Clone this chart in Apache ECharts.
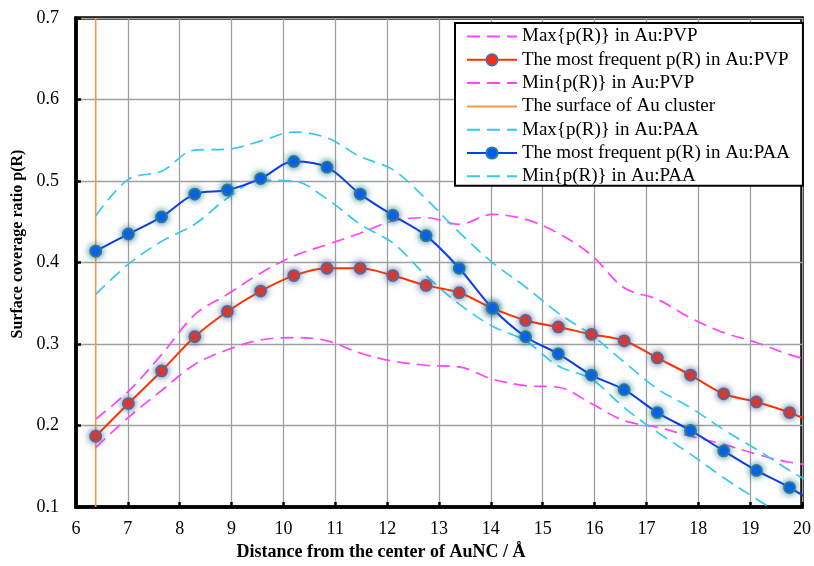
<!DOCTYPE html>
<html>
<head>
<meta charset="utf-8">
<script src="https://cdn.jsdelivr.net/npm/echarts@6/dist/echarts.min.js"></script>
<style>html,body{margin:0;padding:0;background:#fff}#c{width:814px;height:566px}</style>
</head>
<body>
<div id="c"></div>
<script>
// Distance from the centre of AuNC (Å); last point lies just beyond the axis end
const xValues = [6.38, 7.01, 7.65, 8.29, 8.92, 9.56, 10.2, 10.84, 11.48, 12.11, 12.75, 13.39, 14.03, 14.67, 15.3, 15.94, 16.57, 17.21, 17.85, 18.49, 19.12, 19.76, 20.4];

const maxPVP  = [0.208, 0.242, 0.287, 0.336, 0.361, 0.387, 0.408, 0.422, 0.436, 0.451, 0.455, 0.447, 0.459, 0.453, 0.436, 0.409, 0.369, 0.355, 0.332, 0.314, 0.302, 0.287, 0.276];
const modePVP = [0.187, 0.227, 0.267, 0.309, 0.340, 0.365, 0.384, 0.393, 0.393, 0.384, 0.372, 0.363, 0.344, 0.329, 0.321, 0.312, 0.304, 0.283, 0.262, 0.239, 0.229, 0.216, 0.198];
const minPVP  = [0.173, 0.210, 0.243, 0.275, 0.293, 0.305, 0.308, 0.304, 0.289, 0.279, 0.274, 0.272, 0.257, 0.249, 0.247, 0.227, 0.206, 0.198, 0.187, 0.177, 0.165, 0.155, 0.150];

const maxPAA  = [0.457, 0.502, 0.512, 0.538, 0.539, 0.549, 0.560, 0.553, 0.530, 0.514, 0.478, 0.437, 0.400, 0.370, 0.338, 0.311, 0.278, 0.245, 0.222, 0.195, 0.171, 0.145, 0.122];
const modePAA = [0.414, 0.435, 0.456, 0.484, 0.489, 0.503, 0.524, 0.517, 0.484, 0.458, 0.433, 0.393, 0.344, 0.309, 0.288, 0.262, 0.244, 0.216, 0.194, 0.169, 0.145, 0.124, 0.099];
const minPAA  = [0.361, 0.398, 0.426, 0.447, 0.479, 0.501, 0.500, 0.478, 0.447, 0.424, 0.384, 0.349, 0.322, 0.304, 0.273, 0.257, 0.222, 0.192, 0.165, 0.136, 0.110, 0.085, 0.062];

const surfaceX = 6.38;
const surfaceY = [0.1, 0.7];

const seriesNames = [
  'Max{p(R)} in Au:PVP',
  'The most frequent p(R) in Au:PVP',
  'Min{p(R)} in Au:PVP',
  'The surface of Au cluster',
  'Max{p(R)} in Au:PAA',
  'The most frequent p(R) in Au:PAA',
  'Min{p(R)} in Au:PAA'
];

const xTicks = { min: 6, max: 20, interval: 1 };
const yTicks = { min: 0.1, max: 0.7, interval: 0.1 };

function pairs(ys) { return xValues.map((x, i) => [x, ys[i]]); }

const serif = 'Liberation Serif, Times New Roman, serif';
const dashType = [13, 7];
const clear = 'rgba(0,0,0,0)';

function dashed(name, ys, color) {
  return {
    name, type: 'line', data: pairs(ys), smooth: 0.35, symbol: 'circle', symbolSize: 0, showSymbol: false,
    lineStyle: { color, width: 1.7, type: dashType },
    itemStyle: { color: clear, borderColor: clear, borderWidth: 0 }, z: 3
  };
}
function marked(name, ys, lineColor, fill, glow) {
  return {
    name, type: 'line', data: pairs(ys), smooth: 0.35, symbol: 'circle', symbolSize: 11,
    lineStyle: { color: lineColor, width: 2 },
    itemStyle: { color: fill, borderColor: glow, borderWidth: 1.8, shadowBlur: 7, shadowColor: glow },
    z: 5
  };
}

const chart = echarts.init(document.getElementById('c'), null, { renderer: 'canvas' });
chart.setOption({
  animation: false,
  backgroundColor: '#ffffff',
  grid: { left: 76, right: 9, top: 18, bottom: 58, show: true, borderColor: '#000', borderWidth: 3.5, backgroundColor: 'transparent' },
  xAxis: {
    type: 'value', min: xTicks.min, max: xTicks.max, interval: xTicks.interval,
    name: 'Distance from the center of AuNC / Å', nameLocation: 'middle', nameGap: 34,
    nameTextStyle: { fontFamily: serif, fontWeight: 'bold', fontSize: 18, color: '#000', padding: [0, 116, 0, 0] },
    axisLine: { show: true, lineStyle: { color: '#000', width: 3.5 } },
    axisTick: { show: true, inside: true, length: 5, lineStyle: { color: '#000', width: 2.5 } },
    axisLabel: { fontFamily: serif, fontSize: 18, color: '#000', margin: 13 },
    splitLine: { show: true, lineStyle: { color: '#A0A0A0', width: 1.3 } }
  },
  yAxis: {
    type: 'value', min: yTicks.min, max: yTicks.max, interval: yTicks.interval,
    name: 'Surface coverage ratio p(R)', nameLocation: 'middle', nameGap: 48,
    nameTextStyle: { fontFamily: serif, fontWeight: 'bold', fontSize: 16, color: '#000', padding: [0, 0, 0, 37] },
    axisLine: { show: true, lineStyle: { color: '#000', width: 3.5 } },
    axisTick: { show: true, inside: true, length: 5, lineStyle: { color: '#000', width: 2.5 } },
    axisLabel: { fontFamily: serif, fontSize: 18, color: '#000', margin: 17, formatter: v => v.toFixed(1) },
    splitLine: { show: true, lineStyle: { color: '#A0A0A0', width: 1.3 } }
  },
  legend: {
    orient: 'vertical', left: 455, top: 23,
    data: seriesNames,
    itemWidth: 50, itemHeight: 14, itemGap: 4.3,
    padding: [4, 13, 0, 11],
    backgroundColor: '#fff', borderColor: '#000', borderWidth: 2, borderRadius: 0,
    textStyle: { fontFamily: serif, fontSize: 19, color: '#000', lineHeight: 19 },
    z: 10
  },
  series: [
    dashed(seriesNames[0], maxPVP, '#FF44FF'),
    marked(seriesNames[1], modePVP, '#FF3300', '#FF2A10', '#56699A'),
    dashed(seriesNames[2], minPVP, '#FF44FF'),
    {
      name: seriesNames[3], type: 'line', symbol: 'circle', symbolSize: 0, showSymbol: false,
      data: surfaceY.map(y => [surfaceX, y]),
      lineStyle: { color: '#F79646', width: 1.6 },
      itemStyle: { color: clear, borderColor: clear, borderWidth: 0 }, z: 4
    },
    dashed(seriesNames[4], maxPAA, '#33C8F5'),
    marked(seriesNames[5], modePAA, '#0A3CF0', '#0058FF', '#2B7C90'),
    dashed(seriesNames[6], minPAA, '#33C8F5')
  ]
});
</script>
</body>
</html>
